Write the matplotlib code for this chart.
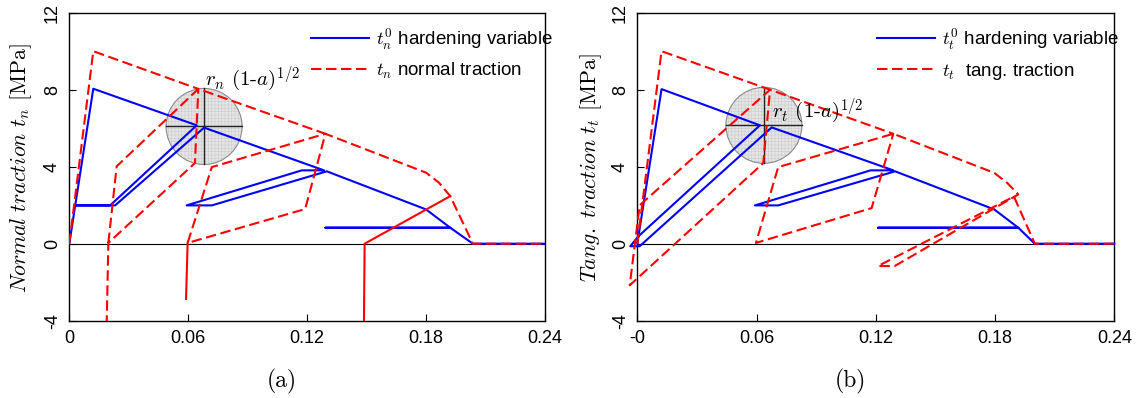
import numpy as np
import matplotlib
matplotlib.use("Agg")
import matplotlib.pyplot as plt
from matplotlib.patches import Circle
from matplotlib import transforms

plt.rcParams["mathtext.fontset"] = "cm"
plt.rcParams["font.family"] = ["Liberation Sans", "DejaVu Sans"]
plt.rcParams["hatch.linewidth"] = 0.3

# ---------------- data: panel (a), normal direction ----------------
blue_a_s = [0, 0.0121, 0.0643, 0.0206, 0.0029, 0.0231, 0.0680, 0.1285, 0.1173,
            0.0592, 0.0719, 0.1299, 0.1800, 0.1922, 0.1292, 0.1922, 0.2036, 0.24]
blue_a_t = [0, 8.05, 6.15, 1.99, 1.99, 1.99, 6.03, 3.81, 3.81,
            1.99, 1.99, 3.76, 1.78, 0.83, 0.83, 0.83, 0, 0]

red_a_s = [0, 0.0121, 0.0651, 0.0634, 0.0197, 0.0185, np.nan, 0.0197, 0.0239,
           0.0651, 0.1292, 0.1190, 0.0597, 0.0719, 0.1292, 0.1800, 0.1865,
           0.1922, 0.2036, 0.24]
red_a_t = [0, 10.0, 8.04, 4.19, 0.04, -6.0, np.nan, 0.04, 4.02,
           8.04, 5.71, 1.80, 0.04, 3.98, 5.71, 3.69, 3.17,
           2.47, 0, 0]

# densely sampled branches (render as continuous)
dense_a_s = [0.0597, 0.0589, np.nan, 0.1922, 0.1490, 0.1485]
dense_a_t = [0.04, -2.87, np.nan, 2.47, 0.0, -6.0]

# ---------------- data: panel (b), tangential direction ----------------
blue_b_s = [0, 0.0122, 0.0617, 0.0005, -0.0035, 0.0012, 0.0676, 0.1288, 0.1174,
            0.0592, 0.0709, 0.1297, 0.1796, 0.1917, 0.1211, 0.1917, 0.2000, 0.24]
blue_b_t = [0, 8.03, 6.15, 0.38, -0.13, -0.13, 6.04, 3.81, 3.81,
            1.99, 1.99, 3.76, 1.78, 0.83, 0.83, 0.83, 0, 0]

red_b_s = [0, 0.0122, 0.0668, 0.0634, -0.0038, 0.0012, 0.0668, 0.1288, 0.1179,
           0.0597, 0.0709, 0.1288, 0.1796, 0.1861, 0.1917, 0.1295, 0.1211,
           0.1895, 0.2000, 0.24]
red_b_t = [0, 10.0, 8.0, 4.19, -2.16, 2.0, 8.0, 5.71, 1.85,
           0.04, 3.98, 5.71, 3.68, 3.16, 2.56, -1.16, -1.16,
           2.45, 0, 0]

x_ticks = [0, 0.06, 0.12, 0.18, 0.24]
x_labels_a = ["0", "0.06", "0.12", "0.18", "0.24"]
x_labels_b = ["-0", "0.06", "0.12", "0.18", "0.24"]
y_ticks = [-4, 0, 4, 8, 12]
y_labels = ["-4", "0", "4", "8", "12"]

# state marker on the softening branch (centre in data units)
marker_a = (0.0680, 6.09)
marker_b = (0.0637, 6.15)

BLUE = "#0000ff"
RED = "#ff0000"
W, H = 1138, 398

fig = plt.figure(figsize=(W / 100, H / 100), dpi=100)
ax_a = fig.add_axes([69.3 / W, 1 - 320.7 / H, (545 - 69.3) / W, 308 / H])
ax_b = fig.add_axes([637.3 / W, 1 - 320.7 / H, (1114.3 - 637.3) / W, 308 / H])


def style_axes(ax, xlabels):
    ax.set_xlim(0, 0.24)
    ax.set_ylim(-4, 12)
    ax.set_xticks(x_ticks)
    ax.set_xticklabels(xlabels)
    ax.set_yticks(y_ticks)
    ax.set_yticklabels(y_labels)
    ax.tick_params(direction="in", length=5, width=0.8, labelsize=13,
                   top=False, right=False)
    ax.tick_params(axis="y", labelrotation=90, pad=6)
    ax.tick_params(axis="x", pad=7)
    for lab in ax.get_yticklabels():
        lab.set_va("center")
    for sp in ax.spines.values():
        sp.set_linewidth(1.0)
    ax.axhline(0, color="k", lw=0.8, zorder=1)


def draw_marker(ax, centre, radius_in=0.38):
    tr = fig.dpi_scale_trans + transforms.ScaledTranslation(centre[0], centre[1], ax.transData)
    ax.add_patch(Circle((0, 0), radius_in, transform=tr, facecolor="#e2e2e2",
                        edgecolor="none", alpha=0.9, zorder=1.2))
    ax.add_patch(Circle((0, 0), radius_in, transform=tr, facecolor="none",
                        edgecolor="#c6c6c6", hatch="+++++", lw=0, zorder=1.3))
    ax.add_patch(Circle((0, 0), radius_in, transform=tr, facecolor="none",
                        edgecolor="#8a8a8a", lw=0.8, zorder=1.4))
    ax.plot([-radius_in, radius_in], [0, 0], color="#222222", lw=1.0,
            transform=tr, zorder=1.5)
    ax.plot([0, 0], [-radius_in, radius_in], color="#222222", lw=1.0,
            transform=tr, zorder=1.5)


dash = (5, 2.2)
legend_kw = dict(loc="upper left", frameon=False, fontsize=13.5,
                 handlelength=3.1, handletextpad=0.4, labelspacing=0.5,
                 borderaxespad=0.3)

# ---- panel (a)
style_axes(ax_a, x_labels_a)
draw_marker(ax_a, marker_a)
ax_a.plot(blue_a_s, blue_a_t, color=BLUE, lw=1.5, zorder=3,
          label=r"$t_n^{\mathit{0}}$ hardening variable")
ax_a.plot(red_a_s, red_a_t, color=RED, lw=1.5, ls=(0, dash), zorder=3,
          label=r"$t_n$ normal traction")
ax_a.plot(dense_a_s, dense_a_t, color=RED, lw=1.5, zorder=3)
ax_a.text(0.0686, 8.6, r"$r_n$ (1-$a)^{1/2}$", family="cmr10", fontsize=15,
          va="center", ha="left", zorder=4)
ax_a.legend(bbox_to_anchor=(0.48, 1.0), **legend_kw)

# ---- panel (b)
style_axes(ax_b, x_labels_b)
draw_marker(ax_b, marker_b)
ax_b.plot(blue_b_s, blue_b_t, color=BLUE, lw=1.5, zorder=3, clip_on=False,
          label=r"$t_t^{\mathit{0}}$ hardening variable")
ax_b.plot(red_b_s, red_b_t, color=RED, lw=1.5, ls=(0, dash), zorder=3,
          clip_on=False, label=r"$t_t$  tang. traction")
ax_b.text(0.0676, 6.9, r"$r_t$ (1-$a)^{1/2}$", family="cmr10", fontsize=15,
          va="center", ha="left", zorder=4)
ax_b.legend(bbox_to_anchor=(0.474, 1.0), **legend_kw)

# ---- axis titles and panel captions
fig.text(21 / W, 1 - 168 / H, r"$\mathit{Normal\ traction}\ t_n$ [MPa]",
         family="cmr10", fontsize=15.8, rotation=90, ha="center", va="center")
fig.text(591 / W, 1 - 168 / H, r"$\mathit{Tang.\ traction}\ t_t$ [MPa]",
         family="cmr10", fontsize=15.8, rotation=90, ha="center", va="center")
fig.text(282 / W, 1 - 381 / H, "(a)", family="cmr10", fontsize=17,
         ha="center", va="center")
fig.text(850 / W, 1 - 381 / H, "(b)", family="cmr10", fontsize=17,
         ha="center", va="center")

fig.savefig("out.png", dpi=100)
